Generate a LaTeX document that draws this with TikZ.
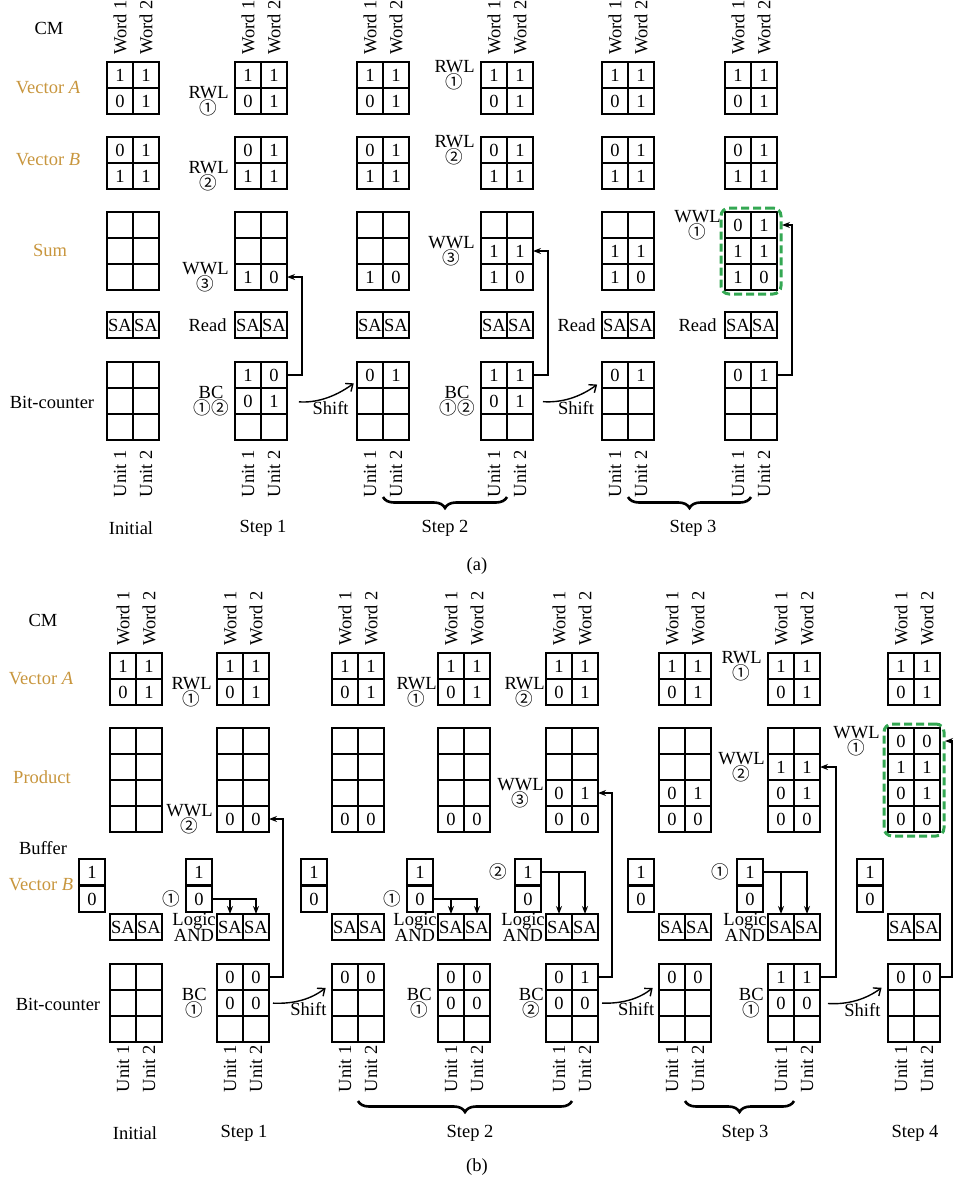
\documentclass[tikz,border=0pt]{standalone}
\usepackage{fontspec}
\setmainfont{Liberation Serif}
\newfontfamily\circfont{Noto Sans CJK SC}[Scale=0.95]
\usepackage{xcolor}
\usepackage{tikz}
\usetikzlibrary{arrows.meta,positioning,fit,calc,decorations.pathreplacing}
\definecolor{rowgold}{HTML}{C8963E}
\definecolor{donegreen}{HTML}{34A853}
\newcommand{\figfont}{\fontsize{9.25}{10}\selectfont}
\newcommand{\cn}[1]{{\circfont #1}}
\tikzset{
  cellbox/.style={
    draw,
    line width=1pt,
    anchor=north west,
    minimum width=13pt,
    minimum height=13pt,
    inner sep=0pt,
    outer sep=0pt,
    font=\figfont
  },
  rowlabel/.style={font=\figfont, inner sep=0pt},
  oplabel/.style={font=\figfont, align=center, inner sep=0pt},
  wordlabel/.style={font=\figfont, rotate=90, anchor=west, inner sep=0pt},
  unitlabel/.style={font=\figfont, rotate=90, anchor=east, inner sep=0pt},
  steplabel/.style={font=\figfont},
  wback/.style={-{Stealth[length=4pt,width=3pt]}, line width=0.7pt},
  andline/.style={-{Stealth[length=4pt,width=3pt]}, line width=0.8pt},
  shiftarrow/.style={-{Straight Barb[length=3pt,width=5pt]}, line width=0.7pt},
  stepbrace/.style={decorate, decoration={brace, mirror, amplitude=5.5pt}, line width=1.3pt},
  donebox/.style={draw=donegreen, line width=1.5pt, dash pattern=on 4pt off 2pt, rounded corners=4pt, inner sep=2pt}
}
\newcommand{\cmgrid}[4]{%
  \foreach \ca/\cb [count=\ri] in {#4}{%
    \node[cellbox] (#1-\ri-1) at (#2,{#3+26*(\ri-1)}) {\ca};
    \node[cellbox] (#1-\ri-2) at ({#2+26},{#3+26*(\ri-1)}) {\cb};
  }}
\newcommand{\bufgrid}[4]{%
  \foreach \ca [count=\ri] in {#4}{%
    \node[cellbox] (#1-\ri) at (#2,{#3+27*(\ri-1)}) {\ca};
  }}

\begin{document}
\begin{tikzpicture}[x=0.5pt,y=-0.5pt]
\useasboundingbox (0,0) rectangle (953,1183);

% (a) addition
\node[rowlabel] (a-cm) at (49,28) {CM};
\node[rowlabel, text=rowgold] (a-veca) at (48,88) {Vector \textit{A}};
\node[rowlabel, text=rowgold] (a-vecb) at (48,160) {Vector \textit{B}};
\node[rowlabel, text=rowgold] (a-sum) at (50,250) {Sum};
\node[rowlabel] (a-bc) at (52,402) {Bit-counter};

\foreach \col/\x in {0/107,1/235,2/357,3/481,4/602,5/725}{
  \node[wordlabel] (a\col-w1) at ({\x+13},55) {Word 1};
  \node[wordlabel] (a\col-w2) at ({\x+39},55) {Word 2};
  \cmgrid{a\col-A}{\x}{62}{1/1,0/1}
  \cmgrid{a\col-B}{\x}{137}{0/1,1/1}
  \cmgrid{a\col-SA}{\x}{312}{SA/SA}
  \node[unitlabel] (a\col-u1) at ({\x+13},450) {Unit 1};
  \node[unitlabel] (a\col-u2) at ({\x+39},450) {Unit 2};
}
\cmgrid{a0-S}{107}{212}{{}/{},{}/{},{}/{}}
\cmgrid{a0-BC}{107}{362}{{}/{},{}/{},{}/{}}
\cmgrid{a1-S}{235}{212}{{}/{},{}/{},1/0}
\cmgrid{a1-BC}{235}{362}{1/0,0/1,{}/{}}
\cmgrid{a2-S}{357}{212}{{}/{},{}/{},1/0}
\cmgrid{a2-BC}{357}{362}{0/1,{}/{},{}/{}}
\cmgrid{a3-S}{481}{212}{{}/{},1/1,1/0}
\cmgrid{a3-BC}{481}{362}{1/1,0/1,{}/{}}
\cmgrid{a4-S}{602}{212}{{}/{},1/1,1/0}
\cmgrid{a4-BC}{602}{362}{0/1,{}/{},{}/{}}
\cmgrid{a5-S}{725}{212}{0/1,1/1,1/0}
\cmgrid{a5-BC}{725}{362}{0/1,{}/{},{}/{}}

\node[oplabel, left=3pt of a1-A-2-1] (a1-rwl) {RWL\\[-2pt]\cn{①}};
\node[oplabel, left=3pt of a1-B-2-1] (a1-rwl2) {RWL\\[-2pt]\cn{②}};
\node[oplabel, left=3pt of a1-S-3-1] (a1-wwl) {WWL\\[-2pt]\cn{③}};
\node[oplabel, left=4pt of a1-SA-1-1] (a1-read) {Read};
\node[oplabel, left=3pt of a1-BC-2-1] (a1-bcl) {BC\\[-2pt]\cn{①②}};
\node[oplabel, left=3pt of a3-A-1-1] (a3-rwl) {RWL\\[-2pt]\cn{①}};
\node[oplabel, left=3pt of a3-B-1-1] (a3-rwl2) {RWL\\[-2pt]\cn{②}};
\node[oplabel, left=3pt of a3-S-2-1] (a3-wwl) {WWL\\[-2pt]\cn{③}};
\node[oplabel, left=3pt of a3-BC-2-1] (a3-bcl) {BC\\[-2pt]\cn{①②}};
\node[oplabel, left=3pt of a4-SA-1-1] (a4-read) {Read};
\node[oplabel, left=2pt of a5-S-1-1] (a5-wwl) {WWL\\[-2pt]\cn{①}};
\node[oplabel, left=4pt of a5-SA-1-1] (a5-read) {Read};

\node[donebox, fit=(a5-S-1-1)(a5-S-3-2)] (a5-done) {};

\draw[wback] (a1-BC-1-2.east) -- ++(15,0) |- (a1-S-3-2.east);
\draw[wback] (a3-BC-1-2.east) -- ++(15,0) |- (a3-S-2-2.east);
\draw[wback, shorten >=2.5pt] (a5-BC-1-2.east) -- ++(15,0) |- (a5-S-1-2.east);

\draw[shiftarrow, shorten <=6pt, shorten >=2pt] (a1-BC-2-2.east) to[bend right=20] node[pos=0.6, below=-1pt, font=\figfont] (a-shift1) {Shift} ([yshift=-3pt]a2-BC-1-1.west);
\draw[shiftarrow, shorten <=5pt, shorten >=3pt] (a3-BC-2-2.east) to[bend right=20] node[pos=0.6, below=-1pt, font=\figfont] (a-shift2) {Shift} ([yshift=-3pt]a4-BC-1-1.west);

\coordinate (a-brace) at (0,497);
\node[steplabel] (a-init) at (131,528) {Initial};
\node[steplabel] (a-step1) at (263,528) {Step 1};
\draw[stepbrace] (a2-BC-3-1.south east |- a-brace) -- (a3-BC-3-1.south east |- a-brace);
\node[steplabel] (a-step2) at (445,528) {Step 2};
\draw[stepbrace] (a4-BC-3-1.south east |- a-brace) -- (a5-BC-3-1.south east |- a-brace);
\node[steplabel] (a-step3) at (693,528) {Step 3};
\node[steplabel] (a-cap) at (477,566) {(a)};

% (b) multiplication
\node[rowlabel] (b-cm) at (43,620) {CM};
\node[rowlabel, text=rowgold] (b-veca) at (41,679) {Vector \textit{A}};
\node[rowlabel, text=rowgold] (b-prod) at (42,777) {Product};
\node[rowlabel] (b-buf) at (43,848) {Buffer};
\node[rowlabel, text=rowgold] (b-vecb) at (41,885) {Vector \textit{B}};
\node[rowlabel] (b-bc) at (58,1004) {Bit-counter};

\foreach \col/\x in {0/110,1/217,2/332,3/438,4/546,5/659,6/768,7/888}{
  \node[wordlabel] (b\col-w1) at ({\x+13},646) {Word 1};
  \node[wordlabel] (b\col-w2) at ({\x+39},646) {Word 2};
  \cmgrid{b\col-A}{\x}{653}{1/1,0/1}
  \bufgrid{b\col-V}{\x-31}{859}{1,0}
  \cmgrid{b\col-SA}{\x}{914}{SA/SA}
  \node[unitlabel] (b\col-u1) at ({\x+13},1045) {Unit 1};
  \node[unitlabel] (b\col-u2) at ({\x+39},1045) {Unit 2};
}
\cmgrid{b0-P}{110}{728}{{}/{},{}/{},{}/{},{}/{}}
\cmgrid{b0-BC}{110}{964}{{}/{},{}/{},{}/{}}
\cmgrid{b1-P}{217}{728}{{}/{},{}/{},{}/{},0/0}
\cmgrid{b1-BC}{217}{964}{0/0,0/0,{}/{}}
\cmgrid{b2-P}{332}{728}{{}/{},{}/{},{}/{},0/0}
\cmgrid{b2-BC}{332}{964}{0/0,{}/{},{}/{}}
\cmgrid{b3-P}{438}{728}{{}/{},{}/{},{}/{},0/0}
\cmgrid{b3-BC}{438}{964}{0/0,0/0,{}/{}}
\cmgrid{b4-P}{546}{728}{{}/{},{}/{},0/1,0/0}
\cmgrid{b4-BC}{546}{964}{0/1,0/0,{}/{}}
\cmgrid{b5-P}{659}{728}{{}/{},{}/{},0/1,0/0}
\cmgrid{b5-BC}{659}{964}{0/0,{}/{},{}/{}}
\cmgrid{b6-P}{768}{728}{{}/{},1/1,0/1,0/0}
\cmgrid{b6-BC}{768}{964}{1/1,0/0,{}/{}}
\cmgrid{b7-P}{888}{728}{0/0,1/1,0/1,0/0}
\cmgrid{b7-BC}{888}{964}{0/0,{}/{},{}/{}}

\node[oplabel, left=2.5pt of b1-A-2-1] (b1-rwl) {RWL\\[-2pt]\cn{①}};
\node[oplabel, left=2pt of b1-P-4-1] (b1-wwl) {WWL\\[-2pt]\cn{②}};
\node[oplabel, left=3pt of b1-V-2] (b1-sel) {\cn{①}};
\node[oplabel, left=0.5pt of b1-SA-1-1] (b1-and) {Logic\\[-2pt]AND};
\node[oplabel, left=5pt of b1-BC-2-1] (b1-bcl) {BC\\[-2pt]\cn{①}};
\node[oplabel, left=0.5pt of b3-A-2-1] (b3-rwl) {RWL\\[-2pt]\cn{①}};
\node[oplabel, left=3pt of b3-V-2] (b3-sel) {\cn{①}};
\node[oplabel, left=0.5pt of b3-SA-1-1] (b3-and) {Logic\\[-2pt]AND};
\node[oplabel, left=3pt of b3-BC-2-1] (b3-bcl) {BC\\[-2pt]\cn{①}};
\node[oplabel, left=0.5pt of b4-A-2-1] (b4-rwl) {RWL\\[-2pt]\cn{②}};
\node[oplabel, left=1pt of b4-P-3-1] (b4-wwl) {WWL\\[-2pt]\cn{③}};
\node[oplabel, left=4pt of b4-V-1] (b4-sel) {\cn{②}};
\node[oplabel, left=0.5pt of b4-SA-1-1] (b4-and) {Logic\\[-2pt]AND};
\node[oplabel, left=1pt of b4-BC-2-1] (b4-bcl) {BC\\[-2pt]\cn{②}};
\node[oplabel, left=3pt of b6-A-1-1] (b6-rwl) {RWL\\[-2pt]\cn{①}};
\node[oplabel, left=1.5pt of b6-P-2-1] (b6-wwl) {WWL\\[-2pt]\cn{②}};
\node[oplabel, left=4pt of b6-V-1] (b6-sel) {\cn{①}};
\node[oplabel, left=0.5pt of b6-SA-1-1] (b6-and) {Logic\\[-2pt]AND};
\node[oplabel, left=2pt of b6-BC-2-1] (b6-bcl) {BC\\[-2pt]\cn{①}};
\node[oplabel, left=4pt of b7-P-1-1] (b7-wwl) {WWL\\[-2pt]\cn{①}};

\node[donebox, fit=(b7-P-1-1)(b7-P-4-2)] (b7-done) {};

\draw[andline] (b1-V-2.east) -| (b1-SA-1-2.north);
\draw[andline] (b1-SA-1-1.north |- b1-V-2.east) -- (b1-SA-1-1.north);
\draw[andline] (b3-V-2.east) -| (b3-SA-1-2.north);
\draw[andline] (b3-SA-1-1.north |- b3-V-2.east) -- (b3-SA-1-1.north);
\draw[andline] (b4-V-1.east) -| (b4-SA-1-2.north);
\draw[andline] (b4-SA-1-1.north |- b4-V-1.east) -- (b4-SA-1-1.north);
\draw[andline] (b6-V-1.east) -| (b6-SA-1-2.north);
\draw[andline] (b6-SA-1-1.north |- b6-V-1.east) -- (b6-SA-1-1.north);

\draw[wback] (b1-BC-1-2.east) -- ++(14,0) |- (b1-P-4-2.east);
\draw[wback] (b4-BC-1-2.east) -- ++(14,0) |- (b4-P-3-2.east);
\draw[wback] (b6-BC-1-2.east) -- ++(16,0) |- (b6-P-2-2.east);
\draw[wback, shorten >=2.5pt] (b7-BC-1-2.east) -- ++(12,0) |- (b7-P-1-2.east);

\draw[shiftarrow, shorten <=2pt, shorten >=4pt] (b1-BC-2-2.east) to[bend right=20] node[pos=0.6, below=-1pt, font=\figfont] (b-shift1) {Shift} ([yshift=-3pt]b2-BC-1-1.west);
\draw[shiftarrow, shorten <=2pt, shorten >=4pt] (b4-BC-2-2.east) to[bend right=20] node[pos=0.6, below=-1pt, font=\figfont] (b-shift2) {Shift} ([yshift=-3pt]b5-BC-1-1.west);
\draw[shiftarrow, shorten <=4pt, shorten >=4pt] (b6-BC-2-2.east) to[bend right=20] node[pos=0.6, below=-1pt, font=\figfont] (b-shift3) {Shift} ([yshift=-3pt]b7-BC-1-1.west);

\coordinate (b-brace) at (0,1101);
\node[steplabel] (b-init) at (135,1133) {Initial};
\node[steplabel] (b-step1) at (244,1133) {Step 1};
\draw[stepbrace] (b2-BC-3-1.south east |- b-brace) -- (b4-BC-3-1.south east |- b-brace);
\node[steplabel] (b-step2) at (470,1133) {Step 2};
\draw[stepbrace] (b5-BC-3-1.south east |- b-brace) -- (b6-BC-3-1.south east |- b-brace);
\node[steplabel] (b-step3) at (745,1133) {Step 3};
\node[steplabel] (b-step4) at (915,1133) {Step 4};
\node[steplabel] (b-cap) at (477,1167) {(b)};
\end{tikzpicture}
\end{document}
